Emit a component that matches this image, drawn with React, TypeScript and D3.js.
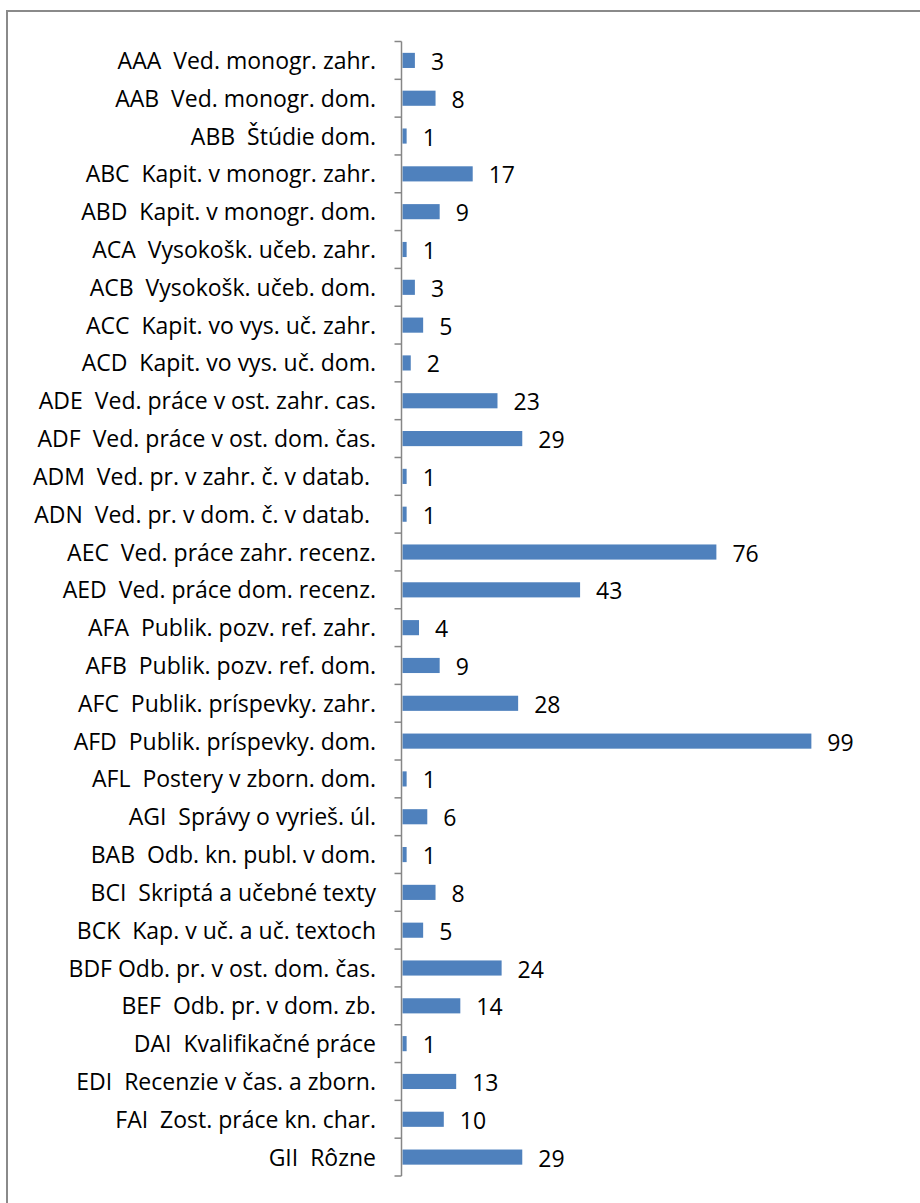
import React from "react";
import * as d3 from "d3";

const categories = [
  "AAA  Ved. monogr. zahr.",
  "AAB  Ved. monogr. dom.",
  "ABB  Štúdie dom.",
  "ABC  Kapit. v monogr. zahr.",
  "ABD  Kapit. v monogr. dom.",
  "ACA  Vysokošk. učeb. zahr.",
  "ACB  Vysokošk. učeb. dom.",
  "ACC  Kapit. vo vys. uč. zahr.",
  "ACD  Kapit. vo vys. uč. dom.",
  "ADE  Ved. práce v ost. zahr. cas.",
  "ADF  Ved. práce v ost. dom. čas.",
  "ADM  Ved. pr. v zahr. č. v datab. ",
  "ADN  Ved. pr. v dom. č. v datab. ",
  "AEC  Ved. práce zahr. recenz.",
  "AED  Ved. práce dom. recenz.",
  "AFA  Publik. pozv. ref. zahr.",
  "AFB  Publik. pozv. ref. dom.",
  "AFC  Publik. príspevky. zahr.",
  "AFD  Publik. príspevky. dom.",
  "AFL  Postery v zborn. dom.",
  "AGI  Správy o vyrieš. úl.",
  "BAB  Odb. kn. publ. v dom.",
  "BCI  Skriptá a učebné texty",
  "BCK  Kap. v uč. a uč. textoch",
  "BDF Odb. pr. v ost. dom. čas.",
  "BEF  Odb. pr. v dom. zb.",
  "DAI  Kvalifikačné práce",
  "EDI  Recenzie v čas. a zborn.",
  "FAI  Zost. práce kn. char.",
  "GII  Rôzne",
];

const values = [
  3, 8, 1, 17, 9, 1, 3, 5, 2, 23, 29, 1, 1, 76, 43, 4, 9, 28, 99, 1, 6, 1, 8, 5,
  24, 14, 1, 13, 10, 29,
];

const xDomainMax = 120;

export default function App() {
  const W = 920;
  const H = 1203;
  const axisX = 401.5;
  const x = d3.scaleLinear().domain([0, xDomainMax]).range([axisX + 1, axisX + 1 + 120 * 4.13]);
  const y = d3.scaleBand<number>().domain(d3.range(categories.length)).range([41.5, 1176]).padding(0);
  const bw = y.bandwidth();
  const barH = bw * 0.4;
  const font = "'Open Sans', sans-serif";
  const fs = 23;
  const ticks = d3.range(categories.length + 1).map((i) => 41.5 + i * bw);

  return (
    <svg width={W} height={H} style={{ position: "absolute", left: 0, top: 0, background: "#fff" }}>
      <rect x={7} y={11} width={W + 20} height={H + 20} fill="#fff" stroke="#8a8a8a" strokeWidth={2} />
      {values.map((v, i) => {
        const yc = (y(i) as number) + bw / 2;
        return (
          <g key={i}>
            <rect x={x(0)} y={yc - barH / 2} width={x(v) - x(0)} height={barH} fill="#4F81BD" />
            <text x={x(v) + 16} y={yc + 1.5} dy="0.35em" fontFamily={font} fontSize={fs} fill="#000">
              {v}
            </text>
            <text
              x={376}
              y={yc + 0.5}
              dy="0.35em"
              textAnchor="end"
              fontFamily={font}
              fontSize={fs}
              fill="#000"
              style={{ whiteSpace: "pre" }}
            >
              {categories[i]}
            </text>
          </g>
        );
      })}
      <line x1={axisX} x2={axisX} y1={41.5} y2={1176} stroke="#868686" strokeWidth={1.5} />
      {ticks.map((t, i) => (
        <line key={i} x1={axisX - 7} x2={axisX} y1={t} y2={t} stroke="#868686" strokeWidth={1.5} />
      ))}
    </svg>
  );
}
